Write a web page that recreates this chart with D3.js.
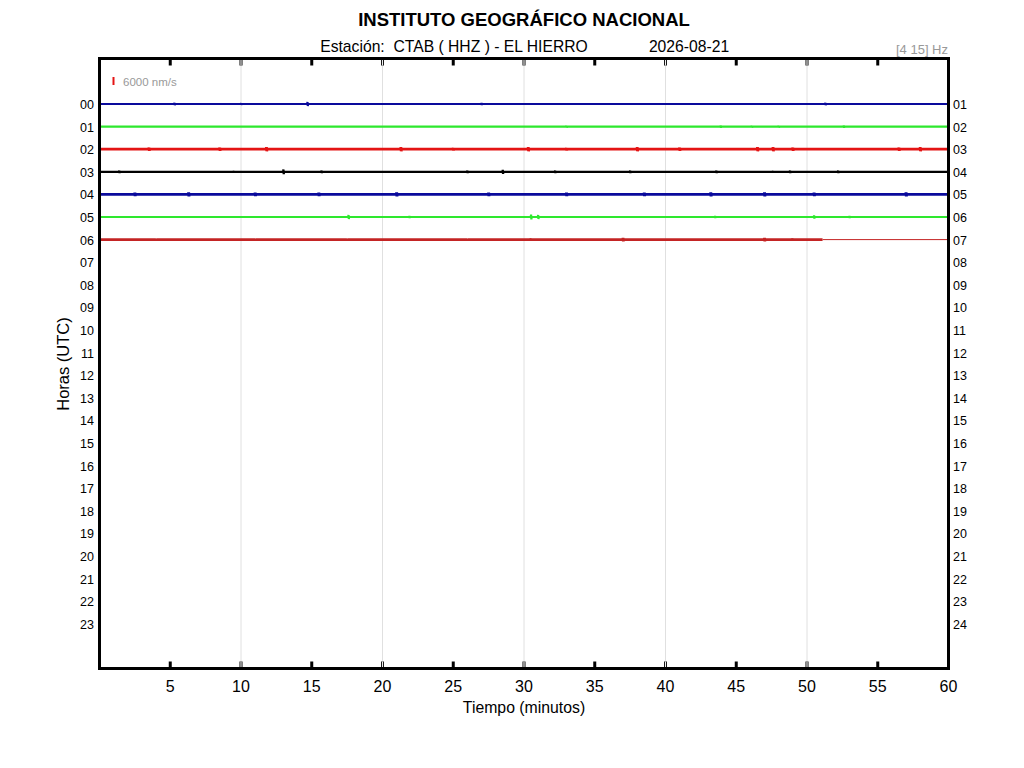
<!DOCTYPE html>
<html>
<head>
<meta charset="utf-8">
<script src="https://cdn.jsdelivr.net/npm/d3@7"></script>
<style>
	body { margin: 0; background: #fff; }
	svg { font-family: "Liberation Sans", Arial, sans-serif; }
</style>
</head>
<body>
<svg id="viz"></svg>
<script>

	// the data
	var horas = d3.range(0, 24);                 // filas 00..23
	var minutosTicks = [5, 10, 15, 20, 25, 30, 35, 40, 45, 50, 55, 60];
	var minutosGrid = [10, 20, 30, 40, 50];
	var colores = ["#0a0a9c", "#2ee82e", "#e41414", "#000000", "#0a0a9c", "#2ee82e", "#c42424"];
	var ruido = [150, 150, 600, 200, 700, 150, 600];     // nm/s, ancho de banda de ruido
	var finTraza = [60, 60, 60, 60, 60, 60, 51.1];       // minuto donde termina la señal
	var picos = [
		[[5.3, 1800], [10.0, 1200], [14.7, 3000], [27.0, 1500], [30.0, 1000], [51.3, 1800]],
		[[33.0, 1500], [43.9, 1800], [46.1, 1500], [48.0, 1500], [52.6, 1800]],
		[[3.5, 2500], [8.5, 2500], [11.8, 3000], [21.3, 3000], [25.0, 2000], [30.3, 3000], [33.0, 2000],
		 [38.0, 3000], [41.0, 2500], [46.5, 3000], [47.6, 3000], [49.0, 2500], [56.5, 2500], [58.0, 3000]],
		[[1.4, 1800], [9.5, 1500], [13.0, 3500], [15.7, 1800], [26.0, 1800], [28.5, 3000], [32.2, 1800],
		 [37.5, 1800], [43.6, 1800], [47.6, 1500], [48.8, 1800], [52.2, 1800]],
		[[2.5, 2500], [6.3, 3000], [11.0, 2500], [15.5, 2500], [21.0, 3000], [27.5, 2500], [33.0, 2500],
		 [38.5, 2500], [43.2, 3000], [47.0, 3000], [50.5, 2500], [57.0, 3000]],
		[[17.6, 3000], [21.9, 1500], [30.5, 3500], [31.0, 3000], [43.5, 1500], [50.5, 2500], [53.0, 1500]],
		[[4.0, 1500], [11.0, 1500], [17.5, 1500], [26.0, 1500], [30.5, 1800], [37.0, 2500], [47.0, 2500], [49.0, 1800]]
	];
	var escalaRef = 6000;   // nm/s



	// set up the svg
	var w = 1024;
	var h = 768;
	var viz = d3.select("#viz").attr("width", w).attr("height", h);

	var mLeft = 99.5, mRight = 948.5, mTop = 58.5, mBottom = 668.5;

	var x = d3.scaleLinear().domain([0, 60]).range([mLeft, mRight]);
	var y = d3.scaleLinear().domain([0, 23]).range([104, 623.8]);
	var amp = d3.scaleLinear().domain([0, escalaRef]).range([0, 8]);



	// titles
	viz.append("text")
		.attr("x", 524).attr("y", 26)
		.attr("text-anchor", "middle")
		.attr("font-size", 18.5).attr("font-weight", "bold")
		.text("INSTITUTO GEOGRÁFICO NACIONAL");

	viz.append("text")
		.attr("x", 454).attr("y", 52)
		.attr("text-anchor", "middle")
		.attr("font-size", 15.7)
		.attr("xml:space", "preserve")
		.text("Estación:  CTAB ( HHZ ) - EL HIERRO");

	viz.append("text")
		.attr("x", 689).attr("y", 52)
		.attr("text-anchor", "middle")
		.attr("font-size", 15.7)
		.text("2026-08-21");

	viz.append("text")
		.attr("x", 948).attr("y", 54)
		.attr("text-anchor", "end")
		.attr("font-size", 13).attr("fill", "#999")
		.text("[4 15] Hz");



	// grid lines
	viz.selectAll("line.grid")
		.data(minutosGrid)
		.enter()
		.append("line")
		.attr("class", "grid")
		.attr("x1", function(d) { return x(d); })
		.attr("x2", function(d) { return x(d); })
		.attr("y1", mTop).attr("y2", mBottom)
		.attr("stroke", "#e0e0e0").attr("stroke-width", 1);



	// scale reference
	viz.append("line")
		.attr("x1", 113.5).attr("x2", 113.5)
		.attr("y1", 85).attr("y2", 85 - amp(escalaRef))
		.attr("stroke", "#e41414").attr("stroke-width", 2);

	viz.append("text")
		.attr("x", 123).attr("y", 86)
		.attr("font-size", 11.5).attr("fill", "#999")
		.text(escalaRef + " nm/s");



	// draw the traces
	var linea = d3.line()
		.x(function(d) { return x(d[0]); })
		.y(function(d) { return d[1]; });

	picos.forEach(function(p, i) {
		var base = y(i);
		var pts = [[0, base]];
		p.forEach(function(s) {
			if (s[0] < finTraza[i]) {
				pts.push([s[0] - 0.02, base]);
				pts.push([s[0], base - amp(s[1]) / 2]);
				pts.push([s[0] + 0.02, base + amp(s[1]) / 2]);
				pts.push([s[0] + 0.04, base]);
			}
		});
		pts.push([finTraza[i], base]);

		viz.append("path")
			.attr("d", linea(pts))
			.attr("fill", "none")
			.attr("stroke", colores[i])
			.attr("stroke-width", 2 + amp(ruido[i]))
			.attr("stroke-linejoin", "bevel");

		if (finTraza[i] < 60) {
			viz.append("line")
				.attr("x1", x(finTraza[i])).attr("x2", x(60))
				.attr("y1", base).attr("y2", base)
				.attr("stroke", colores[i]).attr("stroke-width", 1);
		}
	});



	// ticks (inward, top and bottom)
	var ticksInt = minutosTicks.filter(function(d) { return d < 60; });
	[[mTop, 7], [mBottom, -7]].forEach(function(t) {
		viz.selectAll(null)
			.data(ticksInt)
			.enter()
			.append("line")
			.attr("x1", function(d) { return x(d); })
			.attr("x2", function(d) { return x(d); })
			.attr("y1", t[0]).attr("y2", t[0] + t[1])
			.attr("stroke", "#000").attr("stroke-width", 3);
	});

	// grid over the ticks gives the split look
	[[mTop, mTop + 7], [mBottom - 7, mBottom]].forEach(function(t) {
		viz.selectAll(null)
			.data(minutosGrid)
			.enter()
			.append("line")
			.attr("x1", function(d) { return x(d); })
			.attr("x2", function(d) { return x(d); })
			.attr("y1", t[0]).attr("y2", t[1])
			.attr("stroke", "#f0f0f0").attr("stroke-width", 1.2);
	});



	// frame
	viz.append("rect")
		.attr("x", mLeft).attr("y", mTop)
		.attr("width", mRight - mLeft).attr("height", mBottom - mTop)
		.attr("fill", "none")
		.attr("stroke", "#000").attr("stroke-width", 3);



	// hour labels
	viz.selectAll("text.hl")
		.data(horas)
		.enter()
		.append("text")
		.attr("class", "hl")
		.attr("x", 94)
		.attr("y", function(d) { return y(d) + 5; })
		.attr("text-anchor", "end")
		.attr("font-size", 12.5)
		.text(function(d) { return d3.format("02d")(d); });

	viz.selectAll("text.hr")
		.data(horas)
		.enter()
		.append("text")
		.attr("class", "hr")
		.attr("x", 953)
		.attr("y", function(d) { return y(d) + 5; })
		.attr("font-size", 12.5)
		.text(function(d) { return d3.format("02d")(d + 1); });

	viz.append("text")
		.attr("transform", "translate(69,364) rotate(-90)")
		.attr("text-anchor", "middle")
		.attr("font-size", 16.5)
		.text("Horas (UTC)");



	// minute labels
	viz.selectAll("text.ml")
		.data(minutosTicks)
		.enter()
		.append("text")
		.attr("class", "ml")
		.attr("x", function(d) { return x(d); })
		.attr("y", 692)
		.attr("text-anchor", "middle")
		.attr("font-size", 16)
		.text(function(d) { return d; });

	viz.append("text")
		.attr("x", 524).attr("y", 713)
		.attr("text-anchor", "middle")
		.attr("font-size", 15.8)
		.text("Tiempo (minutos)");

</script>
</body>
</html>
